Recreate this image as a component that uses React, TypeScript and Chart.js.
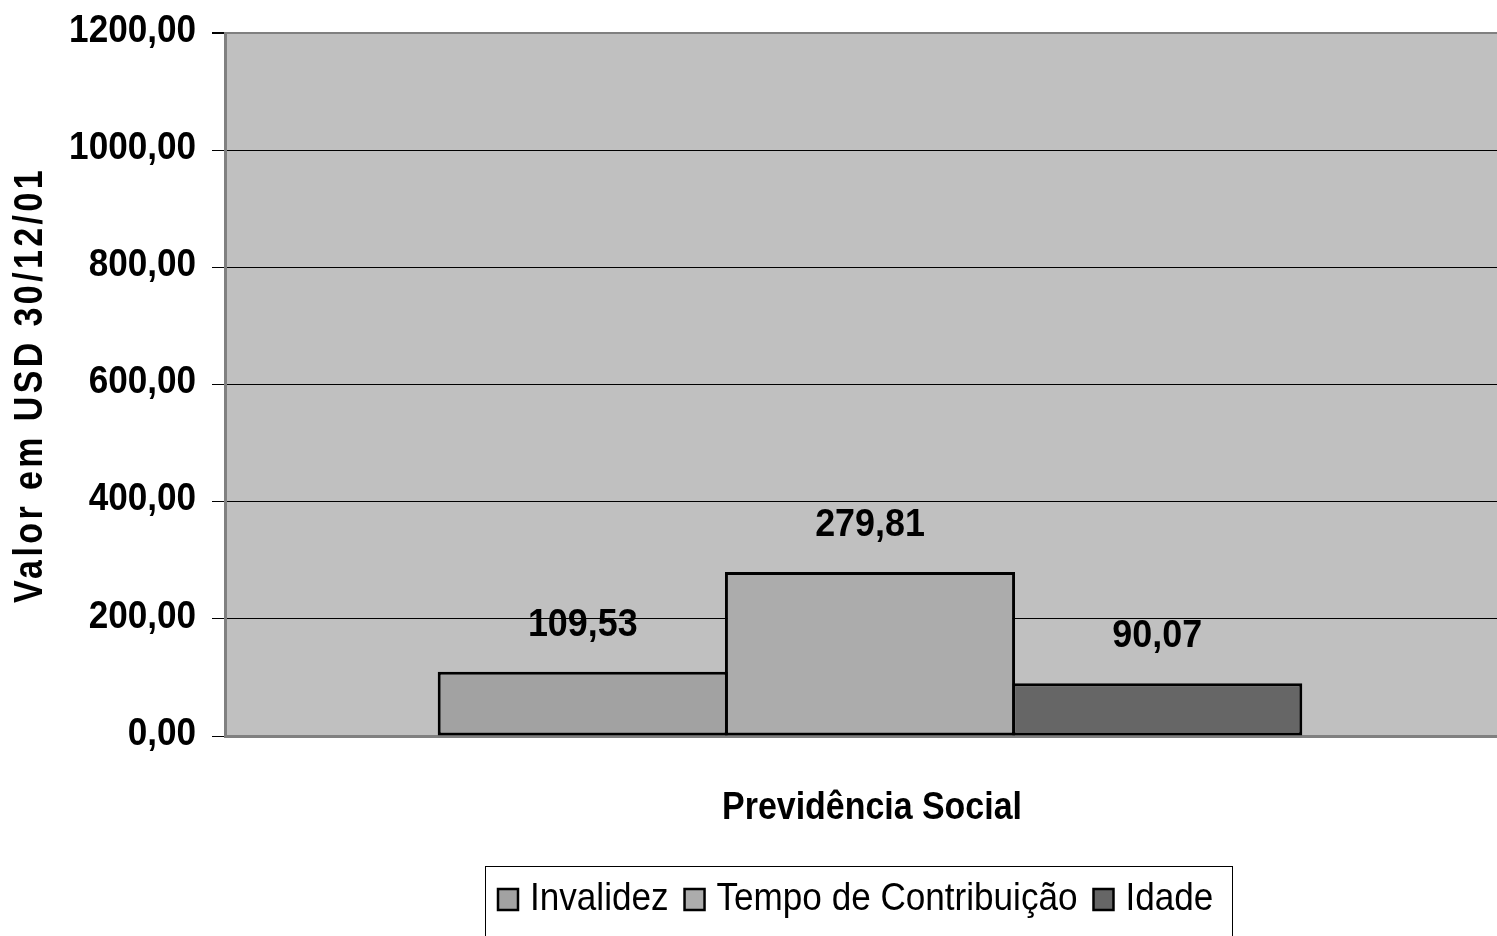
import React, { useEffect, useRef } from "react";
import { Chart, registerables } from "chart.js";

Chart.register(...registerables);

const categories = ["Previdência Social"];
const seriesNames = ["Invalidez", "Tempo de Contribuição", "Idade"];
const seriesValues = [[109.53], [279.81], [90.07]];
const seriesColors = ["#a2a2a2", "#acacac", "#666666"];
const yTicks = [0, 200, 400, 600, 800, 1000, 1200];
const xTitle = "Previdência Social";
const yTitle = "Valor em USD 30/12/01";

const FONT = '"Liberation Sans", Arial, sans-serif';

const fmt = (v: number) => v.toFixed(2).replace(".", ",");

function drawText(
  ctx: CanvasRenderingContext2D,
  text: string,
  x: number,
  y: number,
  font: string,
  sx: number,
  align: CanvasTextAlign
) {
  ctx.save();
  ctx.font = font;
  ctx.textAlign = align;
  ctx.textBaseline = "middle";
  ctx.fillStyle = "#000";
  ctx.translate(x, y);
  ctx.scale(sx, 1);
  ctx.fillText(text, 0, 0);
  ctx.restore();
}

export default function App() {
  const ref = useRef<HTMLCanvasElement>(null);
  useEffect(() => {
    document.body.style.margin = "0";
    const ctx = ref.current!.getContext("2d")!;
    const plugin = {
      id: "custom",
      beforeDraw(chart: any) {
        const { ctx, chartArea } = chart;
        ctx.save();
        ctx.fillStyle = "#c0c0c0";
        ctx.fillRect(chartArea.left, chartArea.top, chartArea.right - chartArea.left, chartArea.bottom - chartArea.top);
        ctx.restore();
      },
      afterDatasetsDraw(chart: any) {
        const { ctx } = chart;
        chart.data.datasets.forEach((ds: any, i: number) => {
          const meta = chart.getDatasetMeta(i);
          meta.data.forEach((bar: any, j: number) => {
            drawText(ctx, fmt(ds.data[j]), bar.x, bar.y - 47, `bold 39px ${FONT}`, 0.92, "center");
          });
        });
      },
      afterDraw(chart: any) {
        const { ctx } = chart;
        const ys = chart.scales.y;
        // y tick labels
        yTicks.forEach((v) => {
          drawText(ctx, fmt(v), 196, ys.getPixelForValue(v) - 2, `bold 39px ${FONT}`, 0.9, "right");
        });
        // x title
        drawText(ctx, xTitle, 872, 808, `bold 39px ${FONT}`, 0.87, "center");
        // y title
        ctx.save();
        ctx.translate(31, 385);
        ctx.rotate(-Math.PI / 2);
        ctx.scale(0.85, 1);
        ctx.font = `bold 40px ${FONT}`;
        (ctx as any).letterSpacing = "4px";
        ctx.textAlign = "center";
        ctx.textBaseline = "middle";
        ctx.fillStyle = "#000";
        ctx.fillText(yTitle, 0, 0);
        ctx.restore();
        // legend
        ctx.save();
        const left = 485, right = 1232, top = 866;
        ctx.fillStyle = "#ffffff";
        ctx.fillRect(left, top, right - left, 80);
        ctx.strokeStyle = "#000";
        ctx.lineWidth = 1;
        ctx.strokeRect(left + 0.5, top + 0.5, right - left, 80);
        const lfont = `39px ${FONT}`;
        const lsx = 0.9;
        ctx.font = lfont;
        let x = 498;
        chart.data.datasets.forEach((ds: any) => {
          ctx.fillStyle = ds.backgroundColor;
          ctx.fillRect(x, 889, 20, 21);
          ctx.lineWidth = 2.5;
          ctx.strokeStyle = "#000";
          ctx.strokeRect(x, 889, 20, 21);
          drawText(ctx, ds.label, x + 32, 899, lfont, lsx, "left");
          ctx.font = lfont;
          x += 32 + ctx.measureText(ds.label).width * lsx + 16;
        });
        ctx.restore();
      },
    };
    const chart = new Chart(ctx, {
      type: "bar",
      data: {
        labels: categories,
        datasets: seriesNames.map((n, i) => ({
          label: n,
          data: seriesValues[i],
          backgroundColor: seriesColors[i],
          borderColor: "#000",
          borderWidth: 3,
          borderSkipped: false,
          categoryPercentage: 0.668,
          barPercentage: 1.01,
        })),
      },
      options: {
        animation: false,
        responsive: false,
        maintainAspectRatio: false,
        layout: { padding: { top: 33, left: 0, right: 0, bottom: 0 } },
        plugins: { legend: { display: false }, tooltip: { enabled: false } },
        scales: {
          x: {
            ticks: { display: false },
            grid: { display: false },
            border: { display: true, color: "#808080", width: 3 },
            afterFit: (s: any) => { s.height = 200; },
          },
          y: {
            min: 0,
            max: 1200,
            afterBuildTicks: (s: any) => { s.ticks = yTicks.map((v) => ({ value: v })); },
            ticks: {
              padding: 16,
              color: "rgba(0,0,0,0)",
              font: { family: FONT, size: 8 },
              callback: (v: any) => fmt(Number(v)),
            },
            grid: {
              color: (c: any) => (c.tick && c.tick.value === 1200 ? "#808080" : "#000"),
              lineWidth: (c: any) => (c.tick && c.tick.value === 1200 ? 2 : 1),
              tickLength: 13,
              tickColor: "#000",
            },
            border: { display: true, color: "#808080", width: 3 },
            afterFit: (s: any) => { s.width = 225; },
          },
        },
      },
      plugins: [plugin],
    } as any);
    return () => chart.destroy();
  }, []);
  return (
    <div style={{ position: "fixed", left: 0, top: 0, width: 1497, height: 936, overflow: "hidden", background: "#fff" }}>
      <canvas ref={ref} width={1515} height={936} style={{ display: "block" }} />
    </div>
  );
}
